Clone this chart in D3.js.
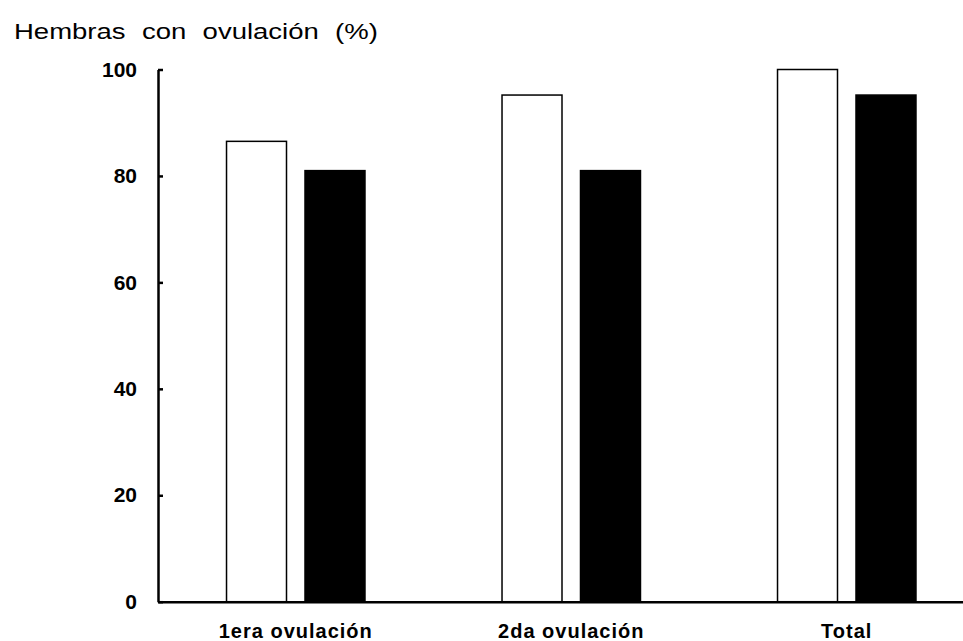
<!DOCTYPE html>
<html>
<head>
<meta charset="utf-8">
<script src="https://cdn.jsdelivr.net/npm/d3@7"></script>
<style>
  html, body { margin: 0; padding: 0; background: #fff; }
  svg { display: block; font-family: "Liberation Sans", Arial, sans-serif; }
</style>
</head>
<body>
<svg id="chart" width="963" height="641"></svg>
<script>
const categories = ["1era ovulación", "2da ovulación", "Total"];
const seriesNames = ["Grupo blanco", "Grupo negro"];
const seriesWhite = [86.5, 95.2, 100];
const seriesBlack = [81.0, 81.0, 95.2];
const yTicks = [0, 20, 40, 60, 80, 100];
const yTitle = "Hembras con ovulación (%)";

const seriesFill = { "Grupo blanco": "#ffffff", "Grupo negro": "#000000" };

const svg = d3.select("#chart");
const W = 963, H = 641;
const margin = { left: 158, top: 69.5, bottom: 641 - 601.7, right: 963 - 984.5 };

const x0 = d3.scaleBand()
  .domain(categories)
  .range([margin.left, W - margin.right])
  .paddingInner(0.492)
  .paddingOuter(0.246);

const x1 = d3.scaleBand()
  .domain(seriesNames)
  .range([0, x0.bandwidth()])
  .paddingInner(0.2166)
  .paddingOuter(0);

const y = d3.scaleLinear()
  .domain([0, 100])
  .range([H - margin.bottom, margin.top]);

const rows = categories.map((c, i) => ({
  cat: c,
  vals: [
    { s: seriesNames[0], v: seriesWhite[i] },
    { s: seriesNames[1], v: seriesBlack[i] }
  ]
}));

// bars
const g = svg.append("g");
g.selectAll("g.grp").data(rows).join("g")
  .attr("class", "grp")
  .attr("transform", d => `translate(${x0(d.cat)},0)`)
  .selectAll("rect").data(d => d.vals).join("rect")
  .attr("x", d => x1(d.s) + 0.75)
  .attr("width", x1.bandwidth() - 1.5)
  .attr("y", d => y(d.v))
  .attr("height", d => y(0) - y(d.v))
  .attr("fill", d => seriesFill[d.s])
  .attr("stroke", "#000")
  .attr("stroke-width", 1.5);

// y axis
const yAxis = d3.axisLeft(y)
  .tickValues(yTicks)
  .tickSizeInner(-5)
  .tickSizeOuter(0)
  .tickPadding(21);
const ya = svg.append("g")
  .attr("transform", `translate(${margin.left},0)`)
  .call(yAxis);
ya.select(".domain").attr("stroke", "#000").attr("stroke-width", 2.5);
ya.selectAll(".tick line").attr("stroke", "#000").attr("stroke-width", 2.5);
ya.selectAll(".tick text")
  .attr("fill", "#000")
  .style("font-size", "21px")
  .style("font-weight", "bold");

// x axis
const xAxis = d3.axisBottom(x0).tickSize(0).tickPadding(22);
const xa = svg.append("g")
  .attr("transform", `translate(0,${y(0)})`)
  .call(xAxis);
xa.select(".domain").attr("stroke", "#000").attr("stroke-width", 2.5);
xa.selectAll(".tick text")
  .attr("fill", "#000")
  .style("font-size", "20px")
  .style("font-weight", "bold")
  .style("letter-spacing", "1px");

// title
svg.append("text")
  .attr("transform", "translate(14,39) scale(1.25,1)")
  .attr("x", 0)
  .attr("y", 0)
  .style("font-size", "22px")
  .style("word-spacing", "7px")
  .attr("fill", "#000")
  .text(yTitle);
</script>
</body>
</html>
